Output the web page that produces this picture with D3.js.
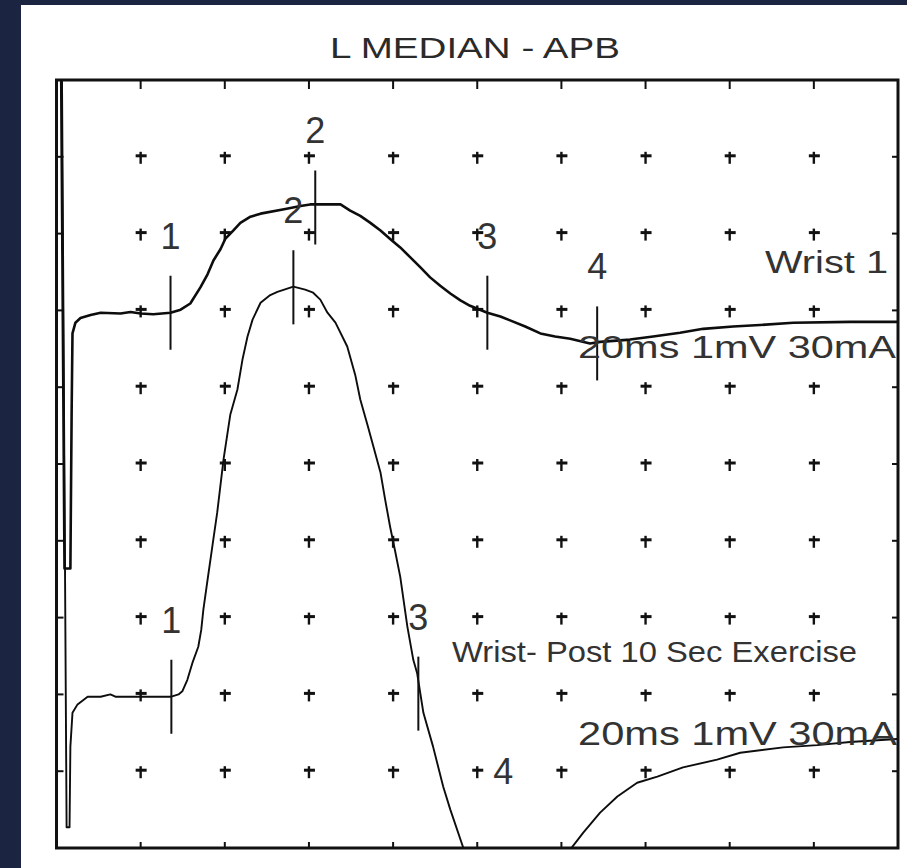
<!DOCTYPE html>
<html><head><meta charset="utf-8">
<script src="https://cdn.jsdelivr.net/npm/d3@7"></script>
<style>
html,body{margin:0;padding:0;background:#1b2440;}
svg{display:block;}
text{font-family:"Liberation Sans",Arial,sans-serif;}
</style></head>
<body><svg id="c" width="907" height="868"></svg>
<script>
// ---------------- data ----------------
const chartTitle = "L MEDIAN - APB";
const gridDivisions = [1, 2, 3, 4, 5, 6, 7, 8, 9];
const sweepMs = [0, 20];          // 2 ms / division
const screenMv = [0, -10];        // 1 mV / division, top of screen = 0
const baselinesMv = [-3.03, -8.03];
const traceNames = ["Wrist 1", "Wrist- Post 10 Sec Exercise"];
const settingsLabels = ["20ms 1mV 30mA", "20ms 1mV 30mA"];
const markerNames = ["1", "2", "3", "4"];

const trace1Ms = [0.10, 0.19, 0.33, 0.36, 0.38, 0.45, 0.57, 0.81, 1.05, 1.52, 1.76, 2.00, 2.30, 2.71, 2.95, 3.18, 3.42, 3.59, 3.73, 3.90, 4.01, 4.20, 4.37, 4.61, 4.85, 5.44, 5.80, 6.03, 6.75, 6.98, 7.22, 7.46, 7.70, 7.93, 8.17, 8.41, 8.65, 8.88, 9.12, 9.36, 9.60, 9.83, 10.24, 10.55, 10.78, 11.14, 11.50, 11.85, 12.21, 12.68, 12.92, 13.63, 14.18, 14.82, 15.37, 16.08, 16.72, 17.51, 18.86, 19.98];
const trace1Mv = [4.00, -3.33, -3.33, -1.28, -0.27, -0.13, -0.07, -0.03, 0.00, -0.01, 0.01, -0.01, -0.02, 0.00, 0.04, 0.12, 0.33, 0.50, 0.68, 0.83, 0.96, 1.07, 1.17, 1.25, 1.29, 1.35, 1.39, 1.41, 1.41, 1.33, 1.26, 1.17, 1.07, 0.96, 0.85, 0.72, 0.59, 0.46, 0.35, 0.25, 0.16, 0.09, 0.00, -0.05, -0.10, -0.18, -0.27, -0.31, -0.34, -0.40, -0.38, -0.35, -0.31, -0.26, -0.21, -0.18, -0.16, -0.13, -0.12, -0.12];

const trace2Ms = [0.12, 0.24, 0.31, 0.33, 0.38, 0.50, 0.74, 1.05, 1.28, 1.40, 1.76, 2.23, 2.73, 2.90, 2.99, 3.11, 3.23, 3.37, 3.44, 3.49, 3.59, 3.71, 3.82, 3.97, 4.13, 4.30, 4.42, 4.54, 4.66, 4.85, 5.08, 5.25, 5.63, 5.91, 6.10, 6.27, 6.44, 6.63, 6.91, 7.10, 7.22, 7.39, 7.53, 7.70, 7.81, 7.93, 8.05, 8.17, 8.34, 8.48, 8.57, 8.72, 8.95, 9.19, 9.36, 9.67, 10.07, 11.02, 11.97, 12.21, 12.52, 12.92, 13.33, 13.80, 14.28, 14.89, 15.70, 16.25, 17.27, 18.08, 18.86, 19.98];
const trace2Mv = [9.00, -1.70, -1.70, -0.65, -0.21, -0.10, 0.00, 0.00, 0.03, 0.00, 0.00, 0.00, 0.00, 0.03, 0.07, 0.22, 0.44, 0.65, 0.87, 1.13, 1.52, 1.98, 2.40, 3.09, 3.67, 4.00, 4.39, 4.69, 4.91, 5.13, 5.23, 5.27, 5.34, 5.30, 5.26, 5.17, 5.00, 4.87, 4.56, 4.19, 3.87, 3.54, 3.26, 2.92, 2.57, 2.21, 1.89, 1.56, 0.91, 0.48, 0.31, -0.21, -0.65, -1.17, -1.47, -1.97, -2.64, -3.29, -2.64, -1.99, -1.77, -1.51, -1.30, -1.12, -1.04, -0.92, -0.82, -0.73, -0.66, -0.63, -0.59, -0.55];

const trace1MarkerMs = [2.71, 6.15, 10.24, 12.85];
const trace1MarkerMv = [0.00, 1.37, 0.00, -0.40];
const trace2MarkerMs = [2.73, 5.63, 8.60, 10.62];
const trace2MarkerMv = [0.00, 5.33, 0.04, -2.60];

// ---------------- drawing ----------------
const svg = d3.select("#c");
const L = 56.5, R = 898, T = 80, B = 848;
const x = d3.scaleLinear().domain(sweepMs).range([L, R]);
const y = d3.scaleLinear().domain(screenMv).range([T, B]);
const gx = d3.scaleLinear().domain([0, 10]).range([L, R]);
const gy = d3.scaleLinear().domain([0, 10]).range([T, B]);

svg.append("rect").attr("x", 0).attr("y", 0).attr("width", 907).attr("height", 868).attr("fill", "#1b2440");
svg.append("rect").attr("x", 21).attr("y", 5).attr("width", 886).attr("height", 863).attr("fill", "#ffffff");

svg.append("defs").append("clipPath").attr("id", "plotclip")
  .append("rect").attr("x", L).attr("y", T).attr("width", R - L).attr("height", B - T);

function label(txt, x0, y0, size, len, color) {
  return svg.append("text").attr("x", x0).attr("y", y0).attr("font-size", size)
    .attr("fill", color || "#333").attr("textLength", len)
    .attr("lengthAdjust", "spacingAndGlyphs").text(txt);
}

// title
label(chartTitle, 330, 58, 29, 290, "#2a2a2a");

// grid crosses
const crossG = svg.append("g").attr("stroke", "#111");
gridDivisions.forEach(i => gridDivisions.forEach(j => {
  const cx = gx(i), cy = gy(j);
  crossG.append("path").attr("stroke-width", 3).attr("d", `M${cx - 5},${cy - 1}H${cx + 6}`);
  crossG.append("path").attr("stroke-width", 2.4).attr("d", `M${cx},${cy - 5}V${cy + 7}`);
}));

// frame ticks
const tickG = svg.append("g").attr("stroke", "#111").attr("stroke-width", 2);
gridDivisions.forEach(i => {
  tickG.append("line").attr("x1", gx(i)).attr("x2", gx(i)).attr("y1", T).attr("y2", T + 9);
  tickG.append("line").attr("x1", gx(i)).attr("x2", gx(i)).attr("y1", B).attr("y2", B - 6);
  tickG.append("line").attr("y1", gy(i)).attr("y2", gy(i)).attr("x1", L).attr("x2", L + 7);
  tickG.append("line").attr("y1", gy(i)).attr("y2", gy(i)).attr("x1", R).attr("x2", R - 6);
});

// frame
svg.append("rect").attr("x", L).attr("y", T).attr("width", R - L).attr("height", B - T)
  .attr("fill", "none").attr("stroke", "#111").attr("stroke-width", 3);

// traces
const plot = svg.append("g").attr("clip-path", "url(#plotclip)");
const traces = [
  {ms: trace1Ms, mv: trace1Mv, base: baselinesMv[0], w: 2.6, mms: trace1MarkerMs, mmv: trace1MarkerMv},
  {ms: trace2Ms, mv: trace2Mv, base: baselinesMv[1], w: 1.9, mms: trace2MarkerMs, mmv: trace2MarkerMv}
];
const line = d3.line().x(d => x(d[0])).y(d => y(d[1]));
traces.forEach(t => {
  const pts = t.ms.map((m, k) => [m, t.base + t.mv[k]]);
  plot.append("path").attr("d", line(pts)).attr("fill", "none")
    .attr("stroke", "#0d0d0d").attr("stroke-width", t.w).attr("stroke-linejoin", "round");
});

// markers
traces.forEach(t => {
  t.mms.forEach((m, k) => {
    const v = t.base + t.mmv[k];
    const inside = v <= screenMv[0] && v >= screenMv[1];
    const cy = y(Math.max(screenMv[1], Math.min(screenMv[0], v)));
    const mx = x(m);
    if (inside) {
      plot.append("line").attr("x1", mx).attr("x2", mx).attr("y1", cy - 37).attr("y2", cy + 37)
        .attr("stroke", "#111").attr("stroke-width", 2);
    }
    svg.append("text").attr("x", mx).attr("y", cy - 64).attr("text-anchor", "middle")
      .attr("font-size", 36).attr("fill", "#333").text(markerNames[k]);
  });
});

// trace labels
label(traceNames[0], 765, 273, 32, 123);
label(settingsLabels[0], 578, 358, 32, 318);
label(traceNames[1], 452, 662, 29, 405);
label(settingsLabels[1], 578, 745, 33, 319);
</script>
</body></html>
